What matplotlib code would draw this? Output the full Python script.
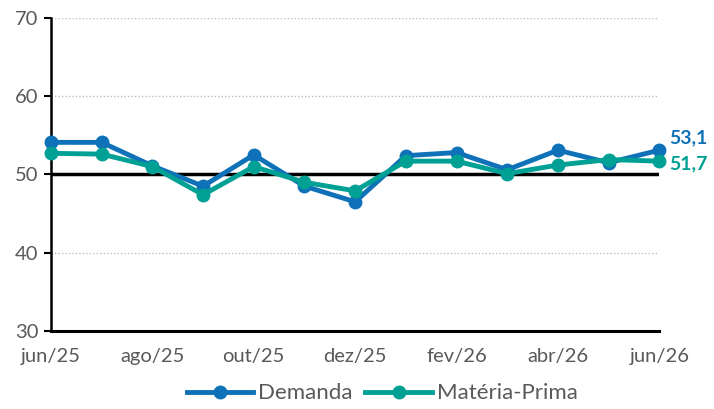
import matplotlib
matplotlib.use("Agg")
import matplotlib.pyplot as plt

months = ["jun/25", "jul/25", "ago/25", "set/25", "out/25", "nov/25", "dez/25",
          "jan/26", "fev/26", "mar/26", "abr/26", "mai/26", "jun/26"]
demanda = [54.1, 54.1, 51.1, 48.5, 52.5, 48.5, 46.5, 52.4, 52.8, 50.6, 53.1, 51.5, 53.1]
materia = [52.7, 52.6, 51.0, 47.4, 51.0, 49.0, 47.9, 51.7, 51.7, 50.1, 51.2, 51.9, 51.7]

blue = "#0f71b7"
teal = "#00a095"
gray = "#595959"

plt.rcParams['font.family'] = ['Lato', 'DejaVu Sans']

fig = plt.figure(figsize=(7.14, 4.09), dpi=100)
ax = fig.add_axes([0.0714, 0.191, 0.852, 0.765])

x = list(range(len(months)))
ax.plot(x, demanda, color=blue, lw=3.5, marker="o", ms=9, label="Demanda",
        zorder=7, clip_on=False)
ax.plot(x, materia, color=teal, lw=3.5, marker="o", ms=9, label="Matéria-Prima",
        zorder=8, clip_on=False)
ax.axhline(50, color="black", lw=2.5, zorder=3)

for v in [40, 60, 70]:
    ax.axhline(v, color="#bfbfbf", lw=1, ls=(0, (1, 1.5)), zorder=1)

ax.set_xlim(0, 12)
ax.set_ylim(30, 70)
ax.set_yticks([30, 40, 50, 60, 70])
ax.set_xticks(x[::2])
ax.set_xticklabels(months[::2])
ax.tick_params(axis="y", length=5, width=1.5, color="black", labelsize=14.5, pad=4)
ax.tick_params(axis="x", length=0, labelsize=14.5, pad=12)
for lab in ax.get_yticklabels() + ax.get_xticklabels():
    lab.set_color(gray)

for s in ["top", "right"]:
    ax.spines[s].set_visible(False)
ax.spines["left"].set_linewidth(1.8)
ax.spines["bottom"].set_linewidth(2.2)
ax.spines["left"].set_zorder(6)

ax.annotate("53,1", (12, demanda[-1]), xytext=(7, 9), textcoords="offset points",
            color=blue, fontsize=14, fontweight="bold", va="center", ha="left",
            annotation_clip=False)
ax.annotate("51,7", (12, materia[-1]), xytext=(7, -2), textcoords="offset points",
            color=teal, fontsize=14, fontweight="bold", va="center", ha="left",
            annotation_clip=False)

leg = fig.legend(loc="lower center", bbox_to_anchor=(0.535, -0.035), ncol=2, frameon=False,
                 fontsize=16, handlelength=3, columnspacing=0.6, handletextpad=0.2)
for t in leg.get_texts():
    t.set_color(gray)

fig.savefig("out.png", dpi=100)
